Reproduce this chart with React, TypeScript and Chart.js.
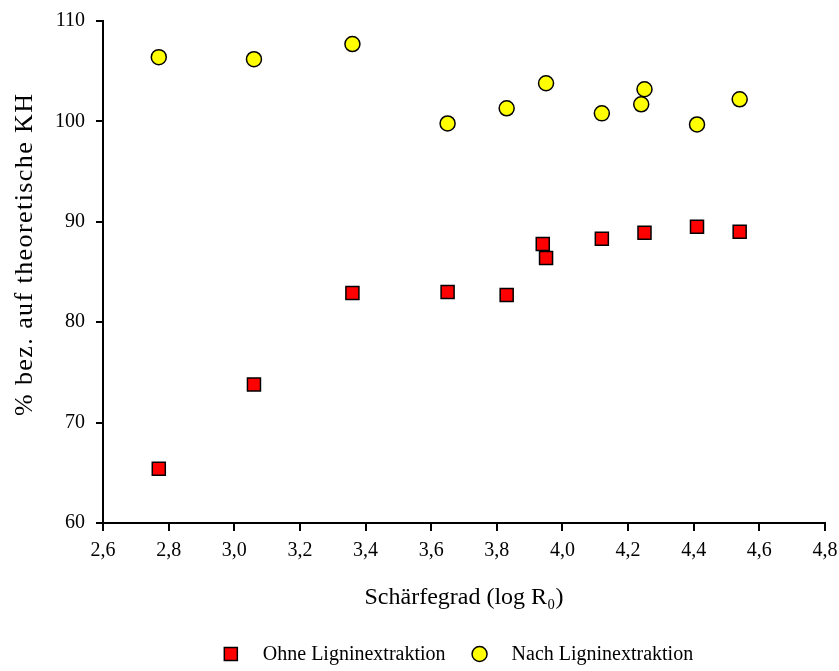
import React, { useEffect, useRef } from "react";
import { Chart, registerables } from "chart.js";

Chart.register(...registerables);

const ohneX = [2.77, 3.06, 3.36, 3.65, 3.83, 3.94, 3.95, 4.12, 4.25, 4.41, 4.54];
const ohneY = [65.4, 73.8, 82.9, 83.0, 82.7, 87.8, 86.4, 88.3, 88.9, 89.5, 89.0];
const nachX = [2.77, 3.06, 3.36, 3.65, 3.83, 3.95, 4.12, 4.24, 4.25, 4.41, 4.54];
const nachY = [106.4, 106.2, 107.7, 99.8, 101.3, 103.8, 100.8, 101.7, 103.2, 99.7, 102.2];

const seriesLabels = ["Ohne Ligninextraktion", "Nach Ligninextraktion"];
const xTitle = "Schärfegrad (log R₀)";
const yTitle = "% bez. auf theoretische KH";

const FONT = "'Liberation Serif', 'Times New Roman', serif";

const yTitlePlugin = {
  id: "yTitle",
  afterDraw(chart: any) {
    const ctx = chart.ctx;
    const area = chart.chartArea;
    ctx.save();
    ctx.font = `26px ${FONT}`;
    ctx.fillStyle = "#000";
    ctx.textAlign = "center";
    ctx.textBaseline = "middle";
    const w = ctx.measureText(yTitle).width;
    const target = 322;
    const ls = Math.max(0, (target - w) / (yTitle.length - 1));
    try {
      (ctx as any).letterSpacing = `${ls.toFixed(2)}px`;
    } catch (e) {}
    const cy = (area.top + area.bottom) / 2 - 17;
    ctx.translate(25, cy);
    ctx.rotate(-Math.PI / 2);
    ctx.fillText(yTitle, ls / 2, 0);
    ctx.restore();
  },
};

const legendPlugin = {
  id: "customLegend",
  afterDraw(chart: any) {
    const ctx = chart.ctx;
    const ds = chart.data.datasets;
    ctx.save();
    ctx.font = `20px ${FONT}`;
    ctx.textBaseline = "middle";
    ctx.fillStyle = "#000";
    const gapMarkerText = 32;
    const gapItems = 34;
    const widths = ds.map((d: any) => ctx.measureText(d.label).width);
    let total = 0;
    widths.forEach((w: number, i: number) => {
      total += gapMarkerText + w + (i < widths.length - 1 ? gapItems : 0);
    });
    const area = chart.chartArea;
    const cx = (area.left + area.right) / 2 - 2;
    let x = cx - total / 2;
    const y = 654;
    ds.forEach((d: any, i: number) => {
      ctx.lineWidth = 1.5;
      ctx.strokeStyle = "#000";
      ctx.fillStyle = d.pointBackgroundColor;
      ctx.beginPath();
      if (d.pointStyle === "rect") {
        ctx.rect(x - 6.5, y - 6.5, 13, 13);
      } else {
        ctx.arc(x, y, 7.5, 0, Math.PI * 2);
      }
      ctx.fill();
      ctx.stroke();
      ctx.fillStyle = "#000";
      ctx.fillText(d.label, x + gapMarkerText, y + 1);
      x += gapMarkerText + widths[i] + gapItems;
    });
    ctx.restore();
  },
};

export default function App() {
  const ref = useRef<HTMLCanvasElement | null>(null);
  useEffect(() => {
    document.body.style.margin = "0";
    const canvas = ref.current;
    if (!canvas) return;
    const chart = new Chart(canvas, {
      type: "scatter",
      data: {
        datasets: [
          {
            label: seriesLabels[0],
            data: ohneX.map((x, i) => ({ x, y: ohneY[i] })),
            pointStyle: "rect",
            pointRadius: 9.2,
            pointHoverRadius: 9.2,
            pointBackgroundColor: "#ff0000",
            pointBorderColor: "#000",
            pointBorderWidth: 1.5,
          },
          {
            label: seriesLabels[1],
            data: nachX.map((x, i) => ({ x, y: nachY[i] })),
            pointStyle: "circle",
            pointRadius: 7.5,
            pointHoverRadius: 7.5,
            pointBackgroundColor: "#ffff00",
            pointBorderColor: "#000",
            pointBorderWidth: 1.5,
          },
        ],
      },
      options: {
        responsive: false,
        animation: false,
        layout: { padding: { top: 21, right: 14, bottom: 59, left: 0 } },
        plugins: {
          legend: { display: false },
          tooltip: { enabled: false },
        },
        scales: {
          x: {
            type: "linear",
            min: 2.6,
            max: 4.8,
            ticks: {
              stepSize: 0.2,
              color: "#000",
              font: { family: FONT, size: 20 },
              padding: 8,
              callback: (v: any) => Number(v).toFixed(1).replace(".", ","),
            },
            grid: { drawOnChartArea: false, drawTicks: true, tickLength: 8, color: "#000", lineWidth: 2 },
            border: { color: "#000", width: 2 },
            title: {
              display: true,
              text: xTitle,
              color: "#000",
              font: { family: FONT, size: 24 },
              padding: { top: 0, bottom: 0 },
            },
            afterFit: (s: any) => {
              s.height = 89;
              s.paddingLeft = 0;
              s.paddingRight = 0;
            },
          },
          y: {
            type: "linear",
            min: 60,
            max: 110,
            ticks: {
              stepSize: 10,
              color: "#000",
              font: { family: FONT, size: 20 },
              padding: 11,
            },
            grid: { drawOnChartArea: false, drawTicks: true, tickLength: 7, color: "#000", lineWidth: 2 },
            border: { color: "#000", width: 2 },
            title: { display: false, text: yTitle },
            afterFit: (s: any) => {
              s.width = 103;
              s.paddingTop = 0;
              s.paddingBottom = 0;
            },
          },
        },
      },
      plugins: [yTitlePlugin, legendPlugin],
    });
    return () => chart.destroy();
  }, []);
  return (
    <div style={{ width: 839, height: 671 }}>
      <canvas ref={ref} width={839} height={671} style={{ display: "block" }} />
    </div>
  );
}
